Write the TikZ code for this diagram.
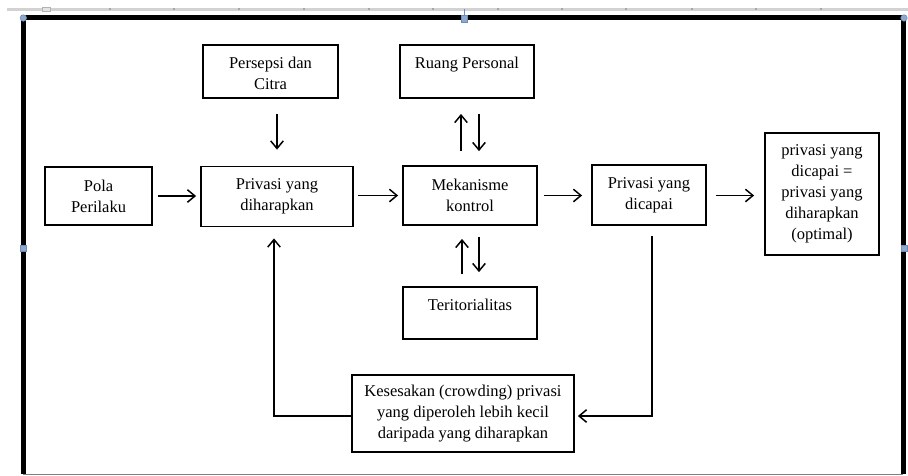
\documentclass[tikz,border=0pt]{standalone}
\usepackage{fontspec}
\setmainfont{Liberation Serif}
\usetikzlibrary{arrows.meta,calc}
\definecolor{handleblue}{HTML}{8FA9CC}
\definecolor{handleedge}{HTML}{6F8DB8}
\definecolor{rulergray}{HTML}{D2D2D4}
\begin{document}
\begin{tikzpicture}[x=1pt,y=-1pt,
  box/.style={draw=black, line width=1.8pt, inner sep=0pt, align=center, font=\fontsize{16.5}{21}\selectfont},
  lbl/.style={inner sep=0pt, align=center, font=\fontsize{16.5}{21}\selectfont, anchor=north},
  arr/.style={line width=1.5pt, -{Straight Barb[length=7.5pt,width=12.5pt]}},
  sqhandle/.style={rectangle, fill=handleblue, draw=handleedge, line width=0.5pt, minimum size=6.5pt, inner sep=0pt},
  rdhandle/.style={circle, fill=handleblue, draw=handleedge, line width=0.5pt, minimum size=6.5pt, inner sep=0pt}
]
\useasboundingbox (0,0) rectangle (908,475);
% ruler line
\draw[rulergray, line width=3pt] (7,9) -- (908,9);
\foreach \tx in {110,174,239,304,369,433,498,562,626,692,756,821}
  \fill[gray!70] (\tx-0.6,8.4) rectangle (\tx+0.6,9.6);
\draw[gray!60, fill=rulergray!60, line width=0.5pt] (42,7) rectangle (50,11);
% frame
\draw[black, line width=5pt] (23.3,474) -- (23.3,17.9) -- (903,17.9) -- (903,474);
\draw[gray, line width=1pt] (23.3,474) -- (903,474);
\draw[handleedge, line width=1pt] (464,9) -- (464,16);
\node[rdhandle] (h1) at (23.3,18) {};
\node[sqhandle] (h2) at (464,18.5) {};
\node[rdhandle] (h3) at (904,18) {};
\node[sqhandle] (h4) at (23.3,248) {};
\node[sqhandle] (h5) at (904,248) {};

% boxes
\node[box, minimum width=135pt, minimum height=53pt] (persepsi) at (270.5,71.5) {};
\node[lbl] (persepsiT) at ([yshift=-13pt]persepsi.north) {Persepsi dan\\Citra};
\node[box, minimum width=134pt, minimum height=53pt] (ruang) at (467,71.5) {};
\node[lbl] (ruangT) at ([yshift=-13pt]ruang.north) {Ruang Personal};
\node[box, minimum width=107pt, minimum height=58pt] (pola) at (98.5,196) {Pola\\Perilaku};
\node[box, minimum width=152pt, minimum height=60pt] (harap) at (277,196.5) {Privasi yang\\diharapkan};
\node[box, minimum width=134pt, minimum height=59pt] (mek) at (470,195.5) {Mekanisme\\kontrol};
\node[box, minimum width=114pt, minimum height=60pt] (capai) at (649,195) {Privasi yang\\dicapai};
\node[box, minimum width=114pt, minimum height=122pt] (opt) at (822,194) {privasi yang\\dicapai =\\privasi yang\\diharapkan\\(optimal)};
\node[box, minimum width=134pt, minimum height=52pt] (terit) at (470,313) {};
\node[lbl] (teritT) at ([yshift=-13pt]terit.north) {Teritorialitas};
\node[box, minimum width=222pt, minimum height=77pt] (keses) at (463,413.5) {Kesesakan (crowding) privasi\\yang diperoleh lebih kecil\\daripada yang diharapkan};

% horizontal arrows
\draw[arr, shorten <=5pt, shorten >=4pt] (pola.east) -- (pola.east -| harap.west);
\draw[arr, shorten <=4pt, shorten >=4pt] (harap.east |- mek.east) -- (mek.east -| mek.west);
\draw[arr, shorten <=6pt, shorten >=9pt] (mek.east) -- (mek.east -| capai.west);
\draw[arr, shorten <=9pt, shorten >=10pt] (capai.east |- mek.east) -- (mek.east -| opt.west);
% vertical arrows
\draw[arr, shorten <=15pt, shorten >=16pt] (harap.north |- persepsi.south) -- (harap.north);
\draw[arr, shorten <=14pt, shorten >=15pt] ([xshift=-9pt]mek.north) -- ([xshift=-9pt]mek.north |- ruang.south);
\draw[arr, shorten <=15pt, shorten >=14pt] ([xshift=9pt]mek.north |- ruang.south) -- ([xshift=9pt]mek.north);
\draw[arr, shorten <=12pt, shorten >=13pt] ([xshift=-8pt]mek.south |- terit.north) -- ([xshift=-8pt]mek.south);
\draw[arr, shorten <=11pt, shorten >=14pt] ([xshift=9pt]mek.south) -- ([xshift=9pt]mek.south |- terit.north);
% feedback
\draw[arr, shorten >=11pt] ([yshift=-2.5pt]keses.west) -| ([xshift=-3pt]harap.south);
\draw[arr, shorten <=10pt, shorten >=3pt] ([xshift=3pt]capai.south) |- ([yshift=-2.5pt]keses.east);
\end{tikzpicture}
\end{document}
